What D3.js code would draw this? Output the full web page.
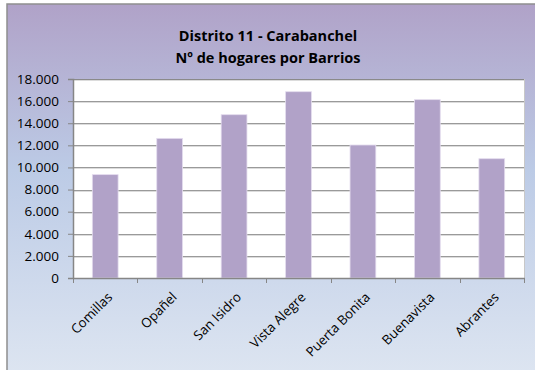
<!DOCTYPE html>
<html>
<head>
<meta charset="utf-8">
<script src="https://cdn.jsdelivr.net/npm/d3@7/dist/d3.min.js"></script>
<style>
  html, body { margin: 0; padding: 0; background: #ffffff; }
  svg { display: block; }
  text { font-family: "Open Sans", "Liberation Sans", sans-serif; fill: #000; }
</style>
</head>
<body>
<svg id="chart" width="535" height="370"></svg>
<script>
// Households per neighbourhood, District 11 (Carabanchel)
const barrios = ["Comillas", "Opañel", "San Isidro", "Vista Alegre", "Puerta Bonita", "Buenavista", "Abrantes"];
const hogares = [9350, 12630, 14770, 16850, 12030, 16130, 10790];
const yTicks = [0, 2000, 4000, 6000, 8000, 10000, 12000, 14000, 16000, 18000];
const titleLines = ["Distrito 11 - Carabanchel", "Nº de hogares por Barrios"];

const svg = d3.select("#chart");
const W = 535, H = 370;
const plot = { left: 73, right: 524, top: 79, bottom: 278 };

// Background gradient of the chart area
const defs = svg.append("defs");
const grad = defs.append("linearGradient")
  .attr("id", "bg").attr("x1", 0).attr("y1", 0).attr("x2", 0).attr("y2", 1);
grad.append("stop").attr("offset", "0%").attr("stop-color", "#b0a2c8");
grad.append("stop").attr("offset", "45%").attr("stop-color", "#bccbe6");
grad.append("stop").attr("offset", "100%").attr("stop-color", "#dde5f1");

svg.append("rect")
  .attr("x", 7).attr("y", 4).attr("width", W).attr("height", H)
  .attr("fill", "url(#bg)")
  .attr("stroke", "#8e8e8e").attr("stroke-width", 1.5);

// Plot area
svg.append("rect")
  .attr("x", plot.left).attr("y", plot.top)
  .attr("width", plot.right - plot.left).attr("height", plot.bottom - plot.top)
  .attr("fill", "#ffffff");

const x = d3.scaleBand().domain(barrios)
  .range([plot.left, plot.right]).paddingInner(0.6).paddingOuter(0.3);
const y = d3.scaleLinear().domain([0, 18000]).range([plot.bottom, plot.top]);

// Gridlines
const grid = svg.append("g");
yTicks.filter(t => t > 0).forEach(t => {
  grid.append("line")
    .attr("x1", plot.left).attr("x2", plot.right)
    .attr("y1", Math.round(y(t)) + 1.5).attr("y2", Math.round(y(t)) + 1.5)
    .attr("stroke", "#dcdcdc").attr("stroke-width", 1);
  grid.append("line")
    .attr("x1", plot.left).attr("x2", plot.right)
    .attr("y1", Math.round(y(t)) + 0.5).attr("y2", Math.round(y(t)) + 0.5)
    .attr("stroke", "#9a9a9a").attr("stroke-width", 1);
});
// Right edge of the plot area
svg.append("line")
  .attr("x1", plot.right + 0.5).attr("x2", plot.right + 0.5)
  .attr("y1", plot.top).attr("y2", plot.bottom)
  .attr("stroke", "#c8c8c8");
// Top edge
svg.append("line")
  .attr("x1", plot.left).attr("x2", plot.right)
  .attr("y1", plot.top + 0.5).attr("y2", plot.top + 0.5)
  .attr("stroke", "#8a8a8a");

// Bars
svg.append("g").selectAll("rect")
  .data(barrios)
  .join("rect")
  .attr("x", d => x(d))
  .attr("width", x.bandwidth())
  .attr("y", (d, i) => y(hogares[i]))
  .attr("height", (d, i) => y(0) - y(hogares[i]))
  .attr("fill", "#b1a2c8")
  .attr("stroke", "#e4dcee").attr("stroke-width", 0.8);

// Y axis
const yAxis = d3.axisLeft(y).tickValues(yTicks).tickSize(5).tickPadding(9)
  .tickFormat(d => d3.format(",")(d).replace(/,/g, "."));
const gy = svg.append("g").attr("transform", `translate(${plot.left},0)`).call(yAxis);
gy.select(".domain").attr("stroke", "#868686").attr("stroke-width", 1.5);
gy.selectAll(".tick line").attr("stroke", "#868686");
gy.selectAll(".tick text").attr("font-size", 13.5).attr("fill", "#000")
  .style("font-family", "'Open Sans', sans-serif");

// X axis: ticks at category boundaries
const step = (plot.right - plot.left) / barrios.length;
const gx = svg.append("g");
gx.append("line")
  .attr("x1", plot.left).attr("x2", plot.right + 1)
  .attr("y1", plot.bottom + 0.5).attr("y2", plot.bottom + 0.5)
  .attr("stroke", "#868686").attr("stroke-width", 1.5);
d3.range(barrios.length + 1).forEach(i => {
  const px = Math.round(plot.left + i * step) + 0.5;
  gx.append("line")
    .attr("x1", px).attr("x2", px)
    .attr("y1", plot.bottom).attr("y2", plot.bottom + 5)
    .attr("stroke", "#868686");
});
gx.selectAll("text.cat")
  .data(barrios)
  .join("text")
  .attr("class", "cat")
  .attr("transform", d => `translate(${x(d) + x.bandwidth() / 2 + 8},${plot.bottom + 20}) rotate(-45)`)
  .attr("text-anchor", "end")
  .attr("font-size", 13.2)
  .text(d => d);

// Title
svg.append("g").selectAll("text")
  .data(titleLines)
  .join("text")
  .attr("x", 268)
  .attr("y", (d, i) => 41 + i * 22)
  .attr("text-anchor", "middle")
  .attr("font-weight", "bold")
  .attr("font-size", 14.5)
  .text(d => d);
</script>
</body>
</html>
